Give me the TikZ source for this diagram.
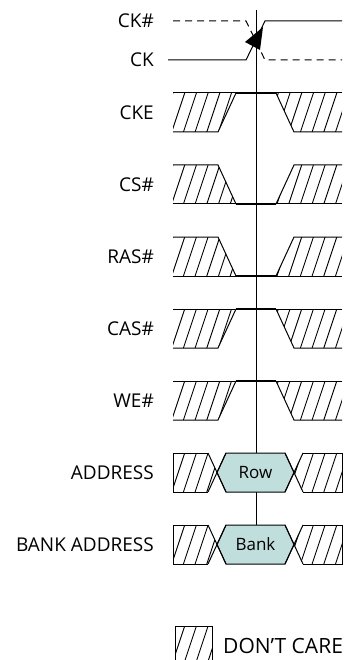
\documentclass[tikz,border=0pt]{standalone}
\usepackage{fontspec}
\setmainfont{Open Sans}
\usetikzlibrary{positioning,calc}
\definecolor{busfill}{RGB}{192,222,220}
\newcommand{\dontcare}[2]{%
  \begin{scope}
    \clip #1;
    \foreach \hx in {160,171.7,...,350}
      \draw[hatch] (\hx,#2) -- ++(13,-39);
  \end{scope}}

\begin{document}
\begin{tikzpicture}[x=1pt,y=-1pt]
    \tikzstyle{sig}=[line width=1pt]
    \tikzstyle{valid}=[line width=2.2pt]
    \tikzstyle{hatch}=[line width=0.9pt]
    \tikzstyle{lbl}=[anchor=base east, inner sep=0pt, font=\fontsize{19}{22}\selectfont]
    \tikzstyle{bus}=[draw, line width=1pt, fill=busfill]
    \useasboundingbox (0,0) rectangle (347,660);
    \node[lbl] (ckn) at (154,28) {CK\#};
    \node[lbl] (ck) at (154,67) {CK};
    \coordinate (edgetop) at (256,10);
    \coordinate (edgebot) at (256,525);
    \draw[sig] (edgetop) -- (edgebot);
    \draw[sig] (168,60) -- (246,60) -- (265,21) -- (342,21);
    \draw[sig, dash pattern=on 7pt off 5pt] (173,21) -- (246,21) -- (265,60) -- (342,60);
    \fill (263,27) -- (245,42) -- (260,50) -- cycle;
    \foreach \i/\sname in {0/CKE,3/CAS\#,4/WE\#}{
        \pgfmathsetmacro{\rt}{93+72*\i}
        \pgfmathsetmacro{\rb}{\rt+39}
        \node[lbl] (sig\i) at (154,\rt+26.5) {\sname};
        \dontcare{(173,\rt) -- (236,\rt) -- (218,\rb) -- (173,\rb) -- cycle}{\rb}
        \dontcare{(276,\rt) -- (342,\rt) -- (342,\rb) -- (294,\rb) -- cycle}{\rb}
        \draw[sig] (173,\rt) -- (236,\rt) (276,\rt) -- (342,\rt);
        \draw[valid] (236,\rt) -- (276,\rt);
        \draw[sig] (173,\rb) -- (218,\rb) -- (236,\rt);
        \draw[sig] (276,\rt) -- (294,\rb) -- (342,\rb);
    }
    \foreach \i/\sname in {1/CS\#,2/RAS\#}{
        \pgfmathsetmacro{\rt}{93+72*\i}
        \pgfmathsetmacro{\rb}{\rt+39}
        \node[lbl] (sig\i) at (154,\rt+26.5) {\sname};
        \dontcare{(173,\rt) -- (218,\rt) -- (236,\rb) -- (173,\rb) -- cycle}{\rb}
        \dontcare{(294,\rt) -- (342,\rt) -- (342,\rb) -- (276,\rb) -- cycle}{\rb}
        \draw[sig] (173,\rt) -- (218,\rt) -- (236,\rb);
        \draw[sig] (173,\rb) -- (236,\rb) (276,\rb) -- (342,\rb);
        \draw[valid] (236,\rb) -- (276,\rb);
        \draw[sig] (276,\rb) -- (294,\rt) -- (342,\rt);
    }
    \foreach \i/\sname/\bval in {5/ADDRESS/Row,6/BANK ADDRESS/Bank}{
        \pgfmathsetmacro{\rt}{93+72*\i}
        \pgfmathsetmacro{\rb}{\rt+39}
        \pgfmathsetmacro{\rm}{\rt+19.5}
        \node[lbl] (sig\i) at (154,\rt+26.5) {\sname};
        \dontcare{(173,\rt) -- (208,\rt) -- (217,\rm) -- (208,\rb) -- (173,\rb) -- cycle}{\rb}
        \dontcare{(303,\rt) -- (342,\rt) -- (342,\rb) -- (303,\rb) -- (294,\rm) -- cycle}{\rb}
        \draw[bus] (217,\rm) -- (226,\rt) -- (285,\rt) -- (294,\rm) -- (285,\rb) -- (226,\rb) -- cycle;
        \node[font=\fontsize{17}{20}\selectfont, inner sep=0pt] (val\i) at (255.5,\rm) {\bval};
        \draw[sig] (208,\rt) -- (173,\rt) -- (173,\rb) -- (208,\rb);
        \draw[sig] (208,\rt) -- (226,\rb) (208,\rb) -- (226,\rt);
        \draw[sig] (285,\rt) -- (303,\rb) (285,\rb) -- (303,\rt);
        \draw[sig] (303,\rt) -- (342,\rt) -- (342,\rb) -- (303,\rb);
    }
    \dontcare{(175,626) rectangle (212,665)}{665}
    \draw[sig] (175,626) rectangle (212,665);
    \node[anchor=base west, inner sep=0pt, font=\fontsize{21}{24}\selectfont] (legend) at (223,653) {DON’T CARE};
\end{tikzpicture}
\end{document}
